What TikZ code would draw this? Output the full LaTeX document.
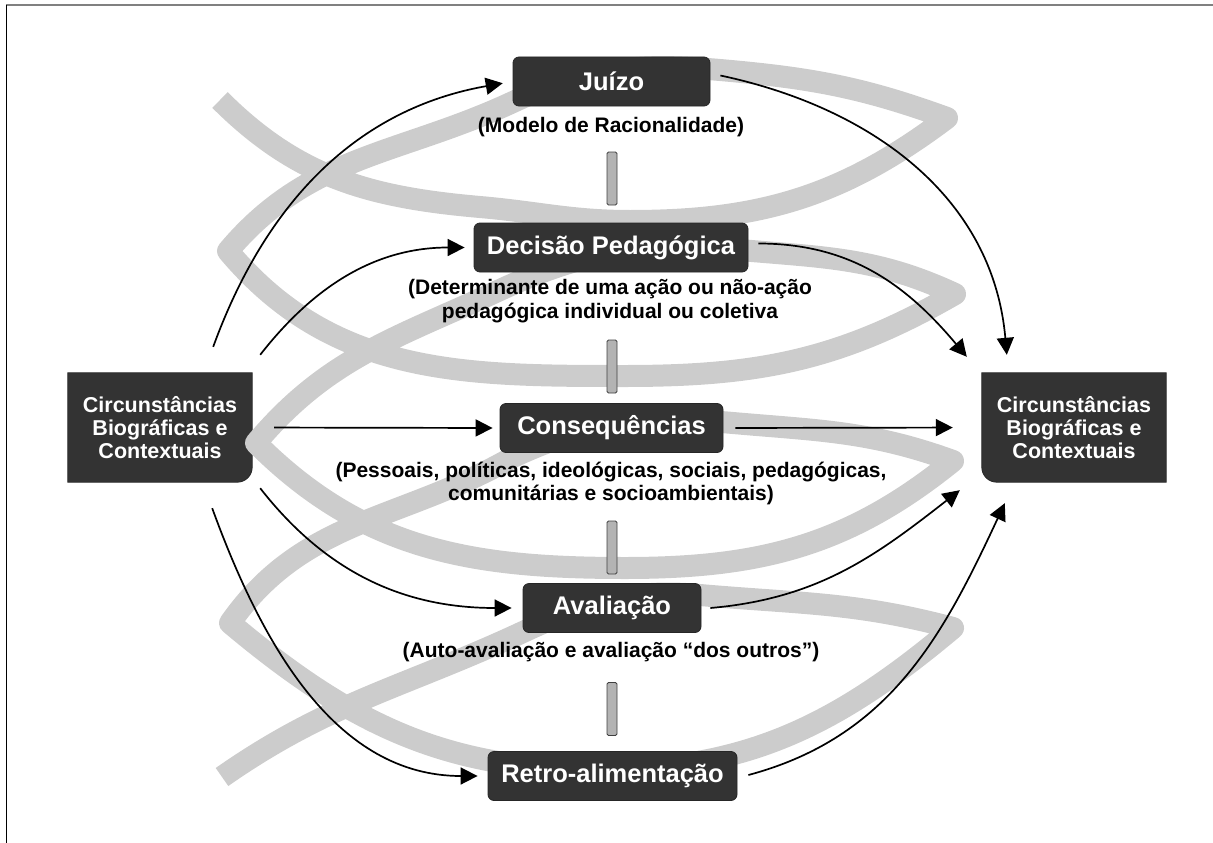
\documentclass[tikz,border=0pt]{standalone}
\usepackage{fontspec}
\setmainfont{Liberation Sans}
\usepackage{tikz}
\usetikzlibrary{arrows.meta,backgrounds}
\definecolor{boxc}{HTML}{333333}
\definecolor{bandc}{HTML}{CCCCCC}
\definecolor{barc}{HTML}{B3B3B3}
\definecolor{framec}{HTML}{808080}
\tikzset{
  ar/.style={-{Triangle[length=17pt,width=17pt]},line width=1.7pt,black},
  stage/.style={draw=black!85,line width=0.8pt,rounded corners=6pt,fill=boxc,text=white,font=\fontsize{25.5}{28}\selectfont\bfseries,minimum height=49pt,inner sep=0pt},
  note/.style={font=\fontsize{21}{23.5}\selectfont\bfseries,align=center,inner sep=0pt},
  side/.style={text=white,font=\fontsize{21.5}{23.3}\selectfont\bfseries,align=center,minimum width=184pt,minimum height=109pt,inner sep=0pt},
  link/.style={draw=black!75,line width=0.8pt,fill=barc,rounded corners=1.5pt,minimum width=10pt,minimum height=53pt,inner sep=0pt},
  band/.style={bandc,line width=22pt,line join=round}
}
\begin{document}
\begin{tikzpicture}[x=1pt,y=1pt]
\useasboundingbox (0,0) rectangle (1213,-843);
\draw[framec,line width=1.8pt] (6,-5) -- (1213,-5);
\draw[black,line width=1pt] (6.5,-5) -- (6.5,-843);
% gray helix behind everything
\draw[band] (220,-100) to[out=-45,in=175] (480,-207) to[out=-5,in=180] (630,-221)
  to[out=0,in=-143] (947,-118) to[out=160,in=-5] (720,-70) to[out=175,in=25] (513,-102)
  to[out=205,in=50] (228,-251) to[out=-50,in=180] (625,-376) to[out=0,in=-150] (955,-294)
  to[out=155,in=-5] (740,-250) to[out=175,in=25] (500,-290) to[out=205,in=50] (256,-443)
  to[out=-45,in=180] (625,-568) to[out=0,in=-141] (953,-461) to[out=160,in=-5] (733,-423)
  to[out=175,in=25] (513,-457) to[out=210,in=55] (230,-623) to[out=-40,in=180] (600,-770)
  to[out=0,in=-140] (953,-628) to[out=165,in=-5] (700,-595) to[out=175,in=25] (523,-632)
  to[out=205,in=35] (222,-777);
% stages
\node[stage,minimum width=197pt] (juizo) at (611.5,-81.5) {Juízo};
\node[stage,minimum width=274pt] (decisao) at (611,-247.5) {Decisão Pedagógica};
\node[stage,minimum width=223pt] (conseq) at (611.5,-428) {Consequências};
\node[stage,minimum width=178pt] (aval) at (612,-608) {Avaliação};
\node[stage,minimum width=249pt] (retro) at (612.5,-776) {Retro-alimentação};
\node[note] (juizon) at (611,-127) {(Modelo de Racionalidade)};
\node[note] (decisaon) at (610,-301) {(Determinante de uma ação ou não-ação\\pedagógica individual ou coletiva};
\node[note] (conseqn) at (611,-483.5) {(Pessoais, políticas, ideológicas, sociais, pedagógicas,\\comunitárias e socioambientais)};
\node[note] (avaln) at (611,-652) {(Auto-avaliação e avaliação “dos outros”)};
\foreach \n/\y in {1/178.5,2/366.5,3/547.5,4/709}
  \node[link] (bar\n) at (612,-\y) {};
% side boxes
\node[side] (lbox) at (160,-427.5) {Circunstâncias\\Biográficas e\\Contextuais};
\node[side] (rbox) at (1074,-427.5) {Circunstâncias\\Biográficas e\\Contextuais};
\begin{scope}[on background layer]
\filldraw[boxc,draw=black!85,line width=0.8pt] (lbox.north west) -- (lbox.north east) -- ([yshift=15pt]lbox.south east)
  arc[start angle=0,end angle=-90,radius=15pt] -- (lbox.south west) -- cycle;
\filldraw[boxc,draw=black!85,line width=0.8pt] (rbox.north west) -- (rbox.north east) -- (rbox.south east)
  -- ([xshift=15pt]rbox.south west) arc[start angle=-90,end angle=-180,radius=15pt] -- cycle;
\end{scope}
% arrows in
\draw[ar,shorten >=10pt] ([shift={(-39,26)}]lbox.north east) to[out=70,in=190] (juizo.west);
\draw[ar,shorten >=9pt] ([shift={(8,18)}]lbox.north east) to[out=52,in=180] (decisao.west);
\draw[ar,shorten <=22pt,shorten >=7pt] (lbox.east) -- (conseq.west);
\draw[ar,shorten >=11pt] ([shift={(8,-6)}]lbox.south east) to[out=-52,in=180] (aval.west);
\draw[ar,shorten >=10pt] ([shift={(-40,-26)}]lbox.south east) to[out=-70,in=180] (retro.west);
% arrows out
\draw[ar] ([shift={(10,6)}]juizo.east) to[out=-12,in=95] ([shift={(25,18)}]rbox.north west);
\draw[ar] ([shift={(10,4)}]decisao.east) to[out=0,in=130] ([shift={(-15,16)}]rbox.north west);
\draw[ar,shorten <=12pt,shorten >=29pt] (conseq.east) -- (rbox.west);
\draw[ar] ([xshift=9pt]aval.east) to[out=5,in=218] ([shift={(-22,-8)}]rbox.south west);
\draw[ar] ([shift={(11,1)}]retro.east) to[out=15,in=245] ([shift={(23,-21)}]rbox.south west);
\end{tikzpicture}
\end{document}
